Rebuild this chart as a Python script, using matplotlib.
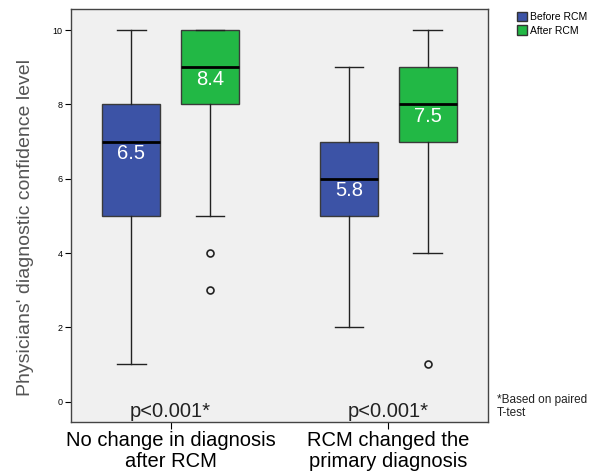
import matplotlib
matplotlib.use("Agg")
import matplotlib.pyplot as plt
from matplotlib.patches import Patch

plt.rcParams['font.family'] = ['Liberation Sans', 'DejaVu Sans']

categories = ["No change in diagnosis\nafter RCM", "RCM changed the\nprimary diagnosis"]
series = ["Before RCM", "After RCM"]
colors = ["#3C53A6", "#22B845"]

# per category: [before, after]
whisk_lo = [[1, 5], [2, 4]]
q1 = [[5, 8], [5, 7]]
medians = [[7, 9], [6, 8]]
q3 = [[8, 10], [7, 9]]
whisk_hi = [[10, 10], [9, 10]]
outliers = [[[], [4, 3]], [[], [1]]]
means = [["6.5", "8.4"], ["5.8", "7.5"]]
pvalues = ["p<0.001*", "p<0.001*"]

fig = plt.figure(figsize=(5.9, 4.72), dpi=100)
ax = fig.add_axes([71/590, 1 - 421.7/472, 417/590, (421.7 - 9)/472])
ax.set_facecolor("#F0F0F0")

offset = 0.181
width = 0.266
stats = []
positions = []
facecols = []
for ci in range(len(categories)):
    for si in range(len(series)):
        stats.append(dict(med=medians[ci][si], q1=q1[ci][si], q3=q3[ci][si],
                          whislo=whisk_lo[ci][si], whishi=whisk_hi[ci][si],
                          fliers=outliers[ci][si]))
        positions.append(ci + (-offset if si == 0 else offset))
        facecols.append(colors[si])

bp = ax.bxp(stats, positions=positions, widths=width, patch_artist=True,
            showfliers=True,
            boxprops=dict(edgecolor="#3a3a3a", linewidth=1.0),
            medianprops=dict(color="black", linewidth=2.0),
            whiskerprops=dict(color="#222222", linewidth=1.0),
            capprops=dict(color="#222222", linewidth=1.0),
            capwidths=width * 0.5,
            flierprops=dict(marker="o", markersize=5, markerfacecolor="none",
                            markeredgecolor="#222222", markeredgewidth=1.2))
for patch, c in zip(bp['boxes'], facecols):
    patch.set_facecolor(c)

idx = 0
for ci in range(len(categories)):
    for si in range(len(series)):
        ax.text(positions[idx], medians[ci][si] - 0.06, means[ci][si], color="white",
                fontsize=14.5, ha="center", va="top")
        idx += 1
    ax.text(ci, -0.26, pvalues[ci], fontsize=14.5, ha="center", va="center", color="#222222")

ax.set_xlim(-0.457, 1.457)
ax.set_ylim(-0.54, 10.57)
ax.set_xticks(range(len(categories)))
ax.set_xticklabels(categories, fontsize=14.5, linespacing=1.12)
ax.set_yticks([0, 2, 4, 6, 8, 10])
ax.tick_params(axis='y', labelsize=6.5, length=4, width=0.8, pad=2)
ax.tick_params(axis='x', length=5, width=0.8, pad=2)
ax.set_ylabel("Physicians' diagnostic confidence level", fontsize=14, color="#555555")
ax.yaxis.set_label_coords(-0.088, 0.47)
for sp in ax.spines.values():
    sp.set_color("#444444")
    sp.set_linewidth(1.0)

handles = [Patch(facecolor=c, edgecolor="#333333", label=s) for s, c in zip(series, colors)]
fig.legend(handles=handles, loc="upper left", bbox_to_anchor=(517/590, 1 - 11.5/472),
           frameon=False, fontsize=7.5, handlelength=0.95, handleheight=1.0,
           handletextpad=0.25, labelspacing=0.35, borderpad=0, borderaxespad=0)

fig.text(497/590, 1 - 406.5/472, "*Based on paired\nT-test", fontsize=8.5, ha="left", va="center",
         color="#222222", linespacing=1.15)

fig.savefig("out.png", dpi=100, facecolor="white")
